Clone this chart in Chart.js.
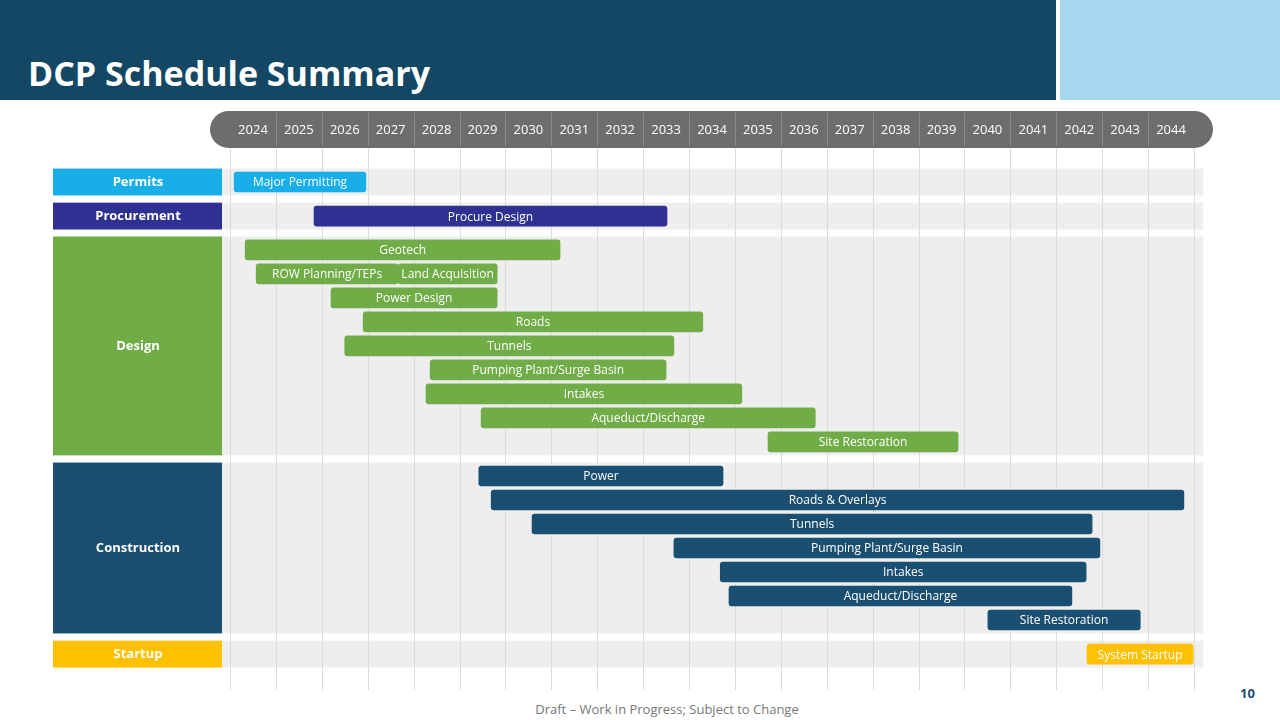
<!DOCTYPE html>
<html><head><meta charset="utf-8">
<script src="https://cdn.jsdelivr.net/npm/chart.js@4"></script>
<style>
body{margin:0;width:1280px;height:720px;overflow:hidden;background:#fff;font-family:"Open Sans",sans-serif;position:relative}
#hdr{position:absolute;left:0;top:0;width:1056px;height:100px;background:#134763}
#hdr h1{margin:0;position:absolute;left:28px;top:50px;color:#fff;font:bold 34px "Open Sans",sans-serif}
#logo{position:absolute;left:1060px;top:0;width:220px;height:100px;background:#a8d6ef}
#seal{position:absolute;left:1082px;top:16px;width:66px;height:66px;border-radius:50%;background:#d9cfa8;border:3px solid #7c6b3b;box-sizing:border-box}
#dca{position:absolute;left:1172px;top:34px;font:bold 28px "Open Sans",sans-serif;color:#2e6ca4;letter-spacing:-1px}
#foot{position:absolute;left:0;width:1334px;top:700px;text-align:center;font-size:13px;color:#777}
#pg{position:absolute;left:1240px;top:684px;font-size:13px;font-weight:bold;color:#1f4e79}
canvas{position:absolute;left:0;top:0}
</style></head><body>
<div id="hdr"><h1>DCP Schedule Summary</h1></div>
<div id="logo"><div id="seal"></div><div id="dca">DCA</div></div>
<div id="foot">Draft – Work in Progress; Subject to Change</div>
<div id="pg">10</div>
<canvas id="c" width="1280" height="720"></canvas>
<script>
// --- DATOS ---
const YEARS = ['2024','2025','2026','2027','2028','2029','2030','2031','2032','2033','2034','2035','2036','2037','2038','2039','2040','2041','2042','2043','2044'];

const TASKS = ['Major Permitting','Procure Design','Geotech','ROW Planning/TEPs','Land Acquisition','Power Design','Roads','Tunnels','Pumping Plant/Surge Basin','Intakes','Aqueduct/Discharge','Site Restoration','Power','Roads & Overlays','Tunnels','Pumping Plant/Surge Basin','Intakes','Aqueduct/Discharge','Site Restoration','System Startup'];
const STARTS = [2024.09,2025.83,2024.33,2024.57,2027.66,2026.2,2026.9,2026.5,2028.36,2028.27,2029.47,2035.72,2029.42,2029.69,2030.58,2033.67,2034.68,2034.87,2040.51,2042.67];
const ENDS   = [2026.96,2033.52,2031.19,2027.66,2029.82,2029.82,2034.3,2033.67,2033.5,2035.15,2036.75,2039.86,2034.74,2044.78,2042.78,2042.95,2042.65,2042.34,2043.83,2044.98];
const LANES  = [0,1.42,2.83,3.83,3.83,4.83,5.83,6.83,7.83,8.83,9.83,10.83,12.25,13.25,14.25,15.25,16.25,17.25,18.25,19.67];
const TASK_GROUP = [0,1,2,2,2,2,2,2,2,2,2,2,3,3,3,3,3,3,3,4];

const GROUPS = ['Permits','Procurement','Design','Construction','Startup'];
const GROUP_FIRST = [0,1.42,2.83,12.25,19.67];
const GROUP_LAST  = [0,1.42,10.83,18.25,19.67];
const GROUP_COLORS = ['#18aee8','#2e3192','#70ad47','#1b4f72','#ffc000'];

// --- PLUGIN DE FONDO ---
const backdrop = {
  id:'backdrop',
  beforeDatasetsDraw(chart){
    const {ctx, scales:{x,y}} = chart;
    ctx.save();
    // bandas de grupo
    GROUPS.forEach((g,i)=>{
      const t = y.getPixelForValue(GROUP_FIRST[i]-0.56), b = y.getPixelForValue(GROUP_LAST[i]+0.56);
      ctx.fillStyle='#eeeeee';
      ctx.fillRect(222,t,x.getPixelForValue(2045.2)-222,b-t);
      ctx.fillStyle=GROUP_COLORS[i];
      ctx.fillRect(53,t,169,b-t);
      ctx.fillStyle='#fff';
      ctx.font='bold 13px "Open Sans"';
      ctx.textAlign='center';ctx.textBaseline='middle';
      ctx.fillText(g,138,(t+b)/2);
    });
    // líneas verticales
    ctx.strokeStyle='#dcdcdc';ctx.lineWidth=1;
    for(let k=0;k<=21;k++){
      const px=Math.round(x.getPixelForValue(2024+k))+0.5;
      ctx.beginPath();ctx.moveTo(px,148);ctx.lineTo(px,690);ctx.stroke();
    }
    // cabecera de años
    ctx.fillStyle='#6d6d6d';
    ctx.beginPath();ctx.roundRect(210,111,1003,37,18.5);ctx.fill();
    ctx.strokeStyle='#8a8a8a';
    ctx.font='13px "Open Sans"';
    YEARS.forEach((yr,k)=>{
      const a=x.getPixelForValue(2024+k), b=x.getPixelForValue(2025+k);
      ctx.fillStyle='#fff';
      ctx.fillText(yr,(a+b)/2,130);
      if(k>0){ctx.beginPath();ctx.moveTo(Math.round(a)+0.5,113);ctx.lineTo(Math.round(a)+0.5,146);ctx.stroke();}
    });
    ctx.restore();
  },
  afterDatasetsDraw(chart){
    const {ctx} = chart;
    const meta = chart.getDatasetMeta(0);
    ctx.save();
    ctx.fillStyle='#fff';ctx.font='12px "Open Sans"';
    ctx.textAlign='center';ctx.textBaseline='middle';
    meta.data.forEach((bar,i)=>{
      const l=Math.min(bar.x,bar.base), r=Math.max(bar.x,bar.base);
      ctx.fillText(TASKS[i],(l+r)/2,bar.y+1);
    });
    ctx.restore();
  }
};

new Chart(document.getElementById('c').getContext('2d'),{
  type:'bar',
  data:{
    datasets:[{
      data: TASKS.map((t,i)=>({x:[STARTS[i],ENDS[i]], y:LANES[i]})),
      backgroundColor: TASK_GROUP.map(g=>GROUP_COLORS[g]),
      borderRadius:3, borderSkipped:false,
      barThickness:20
    }]
  },
  options:{
    indexAxis:'y',
    responsive:false, animation:false,
    layout:{padding:{left:230,right:86,top:110,bottom:10}},
    scales:{
      x:{type:'linear',min:2024,max:2045,display:false,offset:false},
      y:{type:'linear',min:-3,max:22,reverse:true,display:false,offset:false}
    },
    plugins:{legend:{display:false},tooltip:{enabled:false}}
  },
  plugins:[backdrop]
});
</script>
</body></html>
